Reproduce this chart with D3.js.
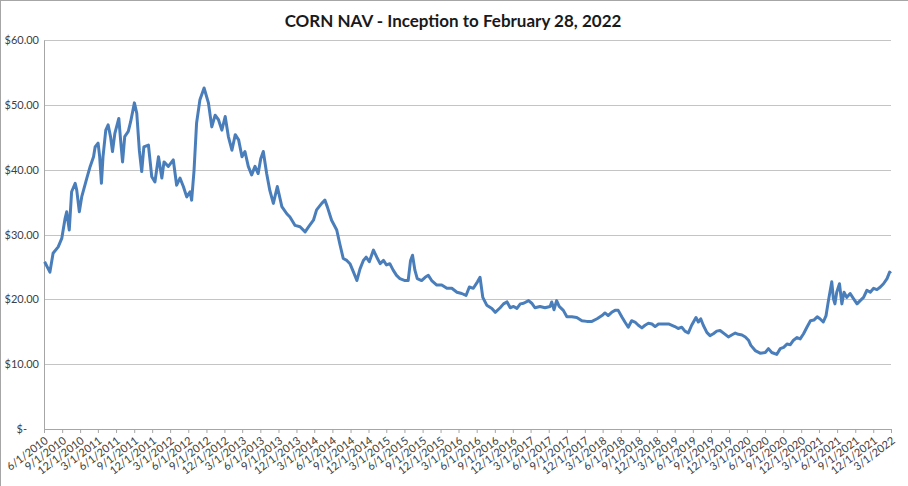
<!DOCTYPE html>
<html>
<head>
<meta charset="utf-8">
<script src="https://cdn.jsdelivr.net/npm/d3@7/dist/d3.min.js"></script>
<style>
  html, body { margin: 0; padding: 0; background: #fff; }
  svg { display: block; font-family: Lato, "Open Sans", sans-serif; }
</style>
</head>
<body>
<div id="chart"></div>
<script>
// layout
var total_width = 908,
    total_height = 486,
    margin = {top: 40, right: 17, bottom: 57, left: 44},
    width = total_width - margin.left - margin.right,
    height = total_height - margin.top - margin.bottom;

var title = "CORN NAV - Inception to February 28, 2022";

// y axis ticks (dollars)
var y_ticks = [0, 10, 20, 30, 40, 50, 60];

// x axis: first and last tick, one tick every 3 months
var x_start = "2010-06-01",
    x_end = "2022-03-01",
    tick_step_months = 3;

// NAV, [date, value]
var nav_points = [
  ["2010-06-04", 25.8], ["2010-07-01", 24.2], ["2010-07-17", 27.1], ["2010-08-12", 28.1],
  ["2010-08-30", 29.4], ["2010-09-16", 32.5], ["2010-09-24", 33.5], ["2010-10-07", 30.7],
  ["2010-10-19", 36.6], ["2010-11-06", 37.9], ["2010-11-14", 36.8], ["2010-11-27", 33.5],
  ["2010-12-09", 35.8], ["2011-01-04", 38.7], ["2011-01-21", 40.5], ["2011-02-07", 42.0],
  ["2011-02-15", 43.5], ["2011-03-02", 44.1], ["2011-03-10", 42.0], ["2011-03-19", 37.9],
  ["2011-03-27", 42.0], ["2011-04-10", 46.1], ["2011-04-22", 46.9], ["2011-05-04", 45.1],
  ["2011-05-14", 42.8], ["2011-05-26", 45.6], ["2011-06-15", 47.9], ["2011-06-24", 44.6],
  ["2011-07-04", 41.2], ["2011-07-15", 45.1], ["2011-08-02", 45.9], ["2011-08-14", 47.4],
  ["2011-09-02", 50.3], ["2011-09-14", 48.7], ["2011-09-27", 43.0], ["2011-10-09", 39.7],
  ["2011-10-20", 43.5], ["2011-11-12", 43.8], ["2011-11-29", 38.9], ["2011-12-15", 38.1],
  ["2012-01-02", 42.0], ["2012-01-19", 38.7], ["2012-01-30", 41.2], ["2012-02-21", 40.5],
  ["2012-03-17", 41.5], ["2012-04-03", 37.6], ["2012-04-20", 38.7], ["2012-05-07", 37.4],
  ["2012-05-24", 35.8], ["2012-06-10", 36.6], ["2012-06-18", 35.3], ["2012-06-30", 39.8],
  ["2012-07-13", 47.2], ["2012-07-30", 50.8], ["2012-08-20", 52.6], ["2012-09-11", 50.3],
  ["2012-09-28", 46.6], ["2012-10-15", 48.4], ["2012-11-01", 47.7], ["2012-11-18", 46.1],
  ["2012-12-05", 48.2], ["2012-12-21", 45.1], ["2013-01-08", 43.0], ["2013-01-25", 45.4],
  ["2013-02-11", 44.6], ["2013-02-28", 42.0], ["2013-03-15", 42.8], ["2013-04-01", 40.5],
  ["2013-04-18", 39.2], ["2013-05-05", 40.5], ["2013-05-21", 39.4], ["2013-06-03", 41.7],
  ["2013-06-16", 42.8], ["2013-07-03", 39.4], ["2013-07-19", 36.8], ["2013-08-06", 34.8],
  ["2013-08-26", 37.4], ["2013-09-18", 34.3], ["2013-10-13", 33.2], ["2013-10-29", 32.7],
  ["2013-11-24", 31.4], ["2013-12-19", 31.2], ["2014-01-14", 30.4], ["2014-02-01", 31.2],
  ["2014-02-25", 32.2], ["2014-03-13", 33.8], ["2014-04-08", 34.8], ["2014-04-24", 35.3],
  ["2014-05-06", 34.3], ["2014-05-28", 32.2], ["2014-06-23", 30.7], ["2014-07-09", 28.5],
  ["2014-07-26", 26.3], ["2014-08-13", 26.0], ["2014-08-29", 25.5], ["2014-09-16", 24.2],
  ["2014-10-03", 22.9], ["2014-10-19", 24.7], ["2014-11-05", 26.0], ["2014-11-19", 26.5],
  ["2014-12-05", 25.8], ["2014-12-26", 27.6], ["2015-01-12", 26.5], ["2015-01-29", 25.5],
  ["2015-02-15", 26.0], ["2015-03-02", 25.3], ["2015-03-19", 25.5], ["2015-04-05", 24.5],
  ["2015-04-22", 23.7], ["2015-05-09", 23.2], ["2015-06-04", 22.9], ["2015-06-20", 22.9],
  ["2015-07-02", 26.0], ["2015-07-12", 26.8], ["2015-07-24", 24.5], ["2015-08-05", 23.2],
  ["2015-08-27", 22.9], ["2015-09-14", 23.4], ["2015-09-30", 23.7], ["2015-10-17", 22.9],
  ["2015-11-12", 22.2], ["2015-12-07", 22.2], ["2016-01-02", 21.7], ["2016-01-27", 21.7],
  ["2016-02-22", 21.1], ["2016-03-17", 20.9], ["2016-04-08", 20.6], ["2016-04-25", 21.9],
  ["2016-05-15", 21.7], ["2016-06-05", 22.7], ["2016-06-18", 23.4], ["2016-07-02", 20.3],
  ["2016-07-22", 19.1], ["2016-08-17", 18.6], ["2016-09-03", 18.0], ["2016-09-28", 18.7],
  ["2016-10-15", 19.3], ["2016-11-02", 19.6], ["2016-11-18", 18.7], ["2016-12-05", 18.9],
  ["2016-12-22", 18.6], ["2017-01-08", 19.3], ["2017-01-25", 19.4], ["2017-02-19", 19.8],
  ["2017-03-07", 19.4], ["2017-03-23", 18.7], ["2017-04-18", 18.9], ["2017-05-13", 18.7],
  ["2017-06-08", 18.9], ["2017-06-16", 19.6], ["2017-06-28", 18.4], ["2017-07-11", 19.8],
  ["2017-07-24", 18.9], ["2017-08-14", 18.3], ["2017-09-01", 17.3], ["2017-09-26", 17.3],
  ["2017-10-21", 17.2], ["2017-11-16", 16.7], ["2017-12-11", 16.6], ["2018-01-06", 16.6],
  ["2018-02-01", 17.0], ["2018-02-26", 17.5], ["2018-03-13", 17.9], ["2018-03-29", 17.5],
  ["2018-04-16", 18.0], ["2018-05-03", 18.3], ["2018-05-19", 18.3], ["2018-06-06", 17.3],
  ["2018-06-22", 16.5], ["2018-07-09", 15.7], ["2018-07-26", 16.7], ["2018-08-12", 16.5],
  ["2018-08-29", 16.0], ["2018-09-16", 15.6], ["2018-10-02", 16.0], ["2018-10-19", 16.3],
  ["2018-11-06", 16.2], ["2018-11-22", 15.8], ["2018-12-09", 16.2], ["2019-01-04", 16.2],
  ["2019-01-29", 16.2], ["2019-03-02", 15.8], ["2019-03-19", 15.5], ["2019-04-06", 15.7],
  ["2019-04-22", 15.1], ["2019-05-09", 14.8], ["2019-05-26", 16.0], ["2019-06-17", 17.2],
  ["2019-06-29", 16.5], ["2019-07-11", 17.0], ["2019-07-24", 16.0], ["2019-08-11", 14.9],
  ["2019-08-27", 14.4], ["2019-09-13", 14.7], ["2019-09-30", 15.1], ["2019-10-17", 15.2],
  ["2019-11-12", 14.6], ["2019-11-28", 14.2], ["2019-12-15", 14.5], ["2020-01-02", 14.8],
  ["2020-01-18", 14.6], ["2020-02-05", 14.5], ["2020-02-22", 14.2], ["2020-03-09", 13.7],
  ["2020-03-21", 12.9], ["2020-04-12", 12.1], ["2020-05-07", 11.7], ["2020-06-02", 11.8],
  ["2020-06-18", 12.4], ["2020-07-05", 11.8], ["2020-07-30", 11.5], ["2020-08-17", 12.4],
  ["2020-09-03", 12.6], ["2020-09-20", 13.1], ["2020-10-07", 13.0], ["2020-10-23", 13.7],
  ["2020-11-10", 14.1], ["2020-11-26", 13.9], ["2020-12-13", 14.7], ["2020-12-30", 15.7],
  ["2021-01-17", 16.7], ["2021-02-03", 16.8], ["2021-02-20", 17.3], ["2021-03-06", 17.0],
  ["2021-03-23", 16.5], ["2021-04-06", 17.5], ["2021-04-18", 19.8], ["2021-05-05", 22.7],
  ["2021-05-13", 20.1], ["2021-05-21", 19.3], ["2021-05-30", 21.1], ["2021-06-13", 22.4],
  ["2021-06-25", 19.3], ["2021-07-06", 21.1], ["2021-07-20", 20.3], ["2021-08-06", 20.9],
  ["2021-08-23", 20.1], ["2021-09-10", 19.3], ["2021-09-26", 19.8], ["2021-10-13", 20.3],
  ["2021-10-30", 21.4], ["2021-11-16", 21.1], ["2021-12-03", 21.7], ["2021-12-20", 21.5],
  ["2022-01-06", 21.9], ["2022-01-22", 22.4], ["2022-02-09", 23.2], ["2022-02-22", 24.2],
  ["2022-02-28", 24.0]
];

var parse = d3.utcParse("%Y-%m-%d");
var data = nav_points.map(d => ({date: parse(d[0]), nav: d[1]}));

var svg = d3.select("#chart").append("svg")
    .attr("width", total_width)
    .attr("height", total_height);

// chart area border (top and left edge visible in the picture)
svg.append("line")
    .attr("x1", 0).attr("y1", 0.5).attr("x2", total_width).attr("y2", 0.5)
    .attr("stroke", "#a6a6a6");
svg.append("line")
    .attr("x1", 0.5).attr("y1", 0).attr("x2", 0.5).attr("y2", total_height)
    .attr("stroke", "#a6a6a6");

svg.append("text")
    .attr("x", 453)
    .attr("y", 27)
    .attr("text-anchor", "middle")
    .style("font-size", "17px")
    .style("font-weight", "bold")
    .style("fill", "#1a1a1a")
    .text(title);

var g = svg.append("g")
    .attr("transform", "translate(" + margin.left + "," + margin.top + ")");

var x = d3.scaleUtc()
    .domain([parse(x_start), parse(x_end)])
    .range([0, width]);

var y = d3.scaleLinear()
    .domain([d3.min(y_ticks), d3.max(y_ticks)])
    .range([height, 0]);

var x_ticks = d3.utcMonth.range(parse(x_start), d3.utcDay.offset(parse(x_end), 1), tick_step_months);

// gridlines
g.append("g")
    .selectAll("line")
    .data(y_ticks.filter(d => d > 0))
    .enter().append("line")
    .attr("x1", 0)
    .attr("x2", width)
    .attr("y1", d => Math.round(y(d)) + 0.5)
    .attr("y2", d => Math.round(y(d)) + 0.5)
    .attr("stroke", "#c4c4c4");

// y axis
var money = d3.format("$,.2f");
var y_axis = g.append("g")
    .call(d3.axisLeft(y).tickValues(y_ticks).tickSize(0).tickPadding(5)
        .tickFormat(d => d === 0 ? "$-" : money(d)));
y_axis.select(".domain").attr("stroke", "#a6a6a6");
y_axis.selectAll("text")
    .attr("dx", d => d === 0 ? -12 : 0)
    .style("font-size", "11px")
    .style("fill", "#404040")
    .style("font-family", "Lato, sans-serif");

// x axis
var x_axis = g.append("g")
    .attr("transform", "translate(0," + height + ")")
    .call(d3.axisBottom(x).tickValues(x_ticks).tickSize(4).tickPadding(2)
        .tickFormat(d3.utcFormat("%-m/%-d/%Y")));
x_axis.select(".domain").attr("stroke", "#a6a6a6");
x_axis.selectAll(".tick line").attr("stroke", "#a6a6a6");
x_axis.selectAll("text")
    .attr("text-anchor", "end")
    .attr("transform", "translate(2,10) rotate(-37)")
    .attr("dy", "0.35em")
    .attr("y", 0)
    .style("font-size", "11px")
    .style("fill", "#404040")
    .style("font-family", "Lato, sans-serif");

// NAV line
var line = d3.line()
    .x(d => x(d.date))
    .y(d => y(d.nav));

g.append("path")
    .datum(data)
    .attr("fill", "none")
    .attr("stroke", "#4a7ebb")
    .attr("stroke-width", 3)
    .attr("stroke-linejoin", "round")
    .attr("d", line);
</script>
</body>
</html>
